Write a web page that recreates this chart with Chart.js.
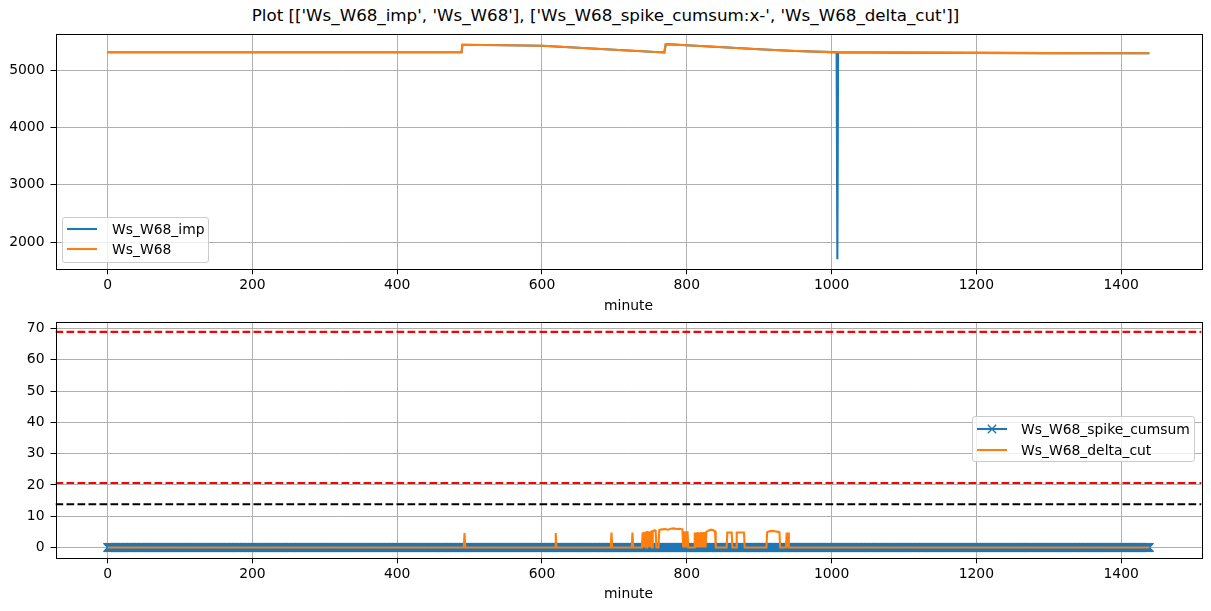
<!DOCTYPE html>
<html>
<head>
<meta charset="utf-8">
<script src="https://cdn.jsdelivr.net/npm/chart.js@4.4.1/dist/chart.umd.min.js"></script>
<style>
  body { margin: 0; width: 1211px; height: 611px; background: #fff; position: relative; overflow: hidden; font-family: 'DejaVu Sans', sans-serif; }
  .panel { position: absolute; left: 0; }
  #title { position: absolute; top: 5px; left: 0; width: 1211px; text-align: center; font-size: 16.7px; color: #000; }
  .legend { position: absolute; background: rgba(255,255,255,0.8); border: 1px solid #ccc; border-radius: 3px; box-sizing: border-box; }
  .legend svg { position: absolute; left: 0; top: 0; }
  .legend span { position: absolute; font-size: 13.9px; line-height: 16px; white-space: nowrap; color: #000; }
</style>
</head>
<body>
<div id="title">Plot [['Ws_W68_imp', 'Ws_W68'], ['Ws_W68_spike_cumsum:x-', 'Ws_W68_delta_cut']]</div>
<div class="panel" style="top:0"><canvas id="top" width="1211" height="320"></canvas></div>
<div class="panel" style="top:300px"><canvas id="bottom" width="1211" height="311"></canvas></div>

<div class="legend" style="left:62px;top:217px;width:147px;height:46px">
  <svg width="147" height="46">
    <line x1="4" y1="11" x2="34" y2="11" stroke="#1f77b4" stroke-width="2.1"/>
    <line x1="4" y1="31" x2="34" y2="31" stroke="#ff7f0e" stroke-width="2.1"/>
  </svg>
  <span style="left:49px;top:3px">Ws_W68_imp</span>
  <span style="left:49px;top:23px">Ws_W68</span>
</div>
<div class="legend" style="left:972px;top:416px;width:223px;height:46px">
  <svg width="223" height="46">
    <line x1="4" y1="12" x2="34" y2="12" stroke="#1f77b4" stroke-width="2.1"/>
    <path d="M14.8 7.8 L23.2 16.2 M14.8 16.2 L23.2 7.8" stroke="#1f77b4" stroke-width="1.4"/>
    <line x1="4" y1="33" x2="34" y2="33" stroke="#ff7f0e" stroke-width="2.1"/>
  </svg>
  <span style="left:48px;top:4px">Ws_W68_spike_cumsum</span>
  <span style="left:48px;top:25px">Ws_W68_delta_cut</span>
</div>

<script>
// x axis (minutes of the day)
const xMin = -72;
const xMax = 1511;
const xTicks = [0, 200, 400, 600, 800, 1000, 1200, 1400];

// top panel
const topYTicks = [2000, 3000, 4000, 5000];
const topYMin = 1525;
const topYMax = 5630;

// Ws_W68 : [minute, value]
const w68 = [
  [0, 5318], [489, 5318], [490, 5447], [550, 5440], [600, 5429], [650, 5395],
  [700, 5360], [769, 5312], [771, 5459], [800, 5438], [850, 5405], [900, 5370],
  [950, 5338], [1000, 5318], [1100, 5310], [1200, 5305], [1300, 5302], [1439, 5300]
];
// Ws_W68_imp : same curve with the single dip around minute 1008
const w68Imp = [
  [0, 5318], [489, 5318], [490, 5447], [550, 5440], [600, 5429], [650, 5395],
  [700, 5360], [769, 5312], [771, 5459], [800, 5438], [850, 5405], [900, 5370],
  [950, 5338], [1000, 5318], [1007, 5317], [1008, 1701], [1009, 5317],
  [1100, 5310], [1200, 5305], [1300, 5302], [1439, 5300]
];

// bottom panel
const botYTicks = [0, 10, 20, 30, 40, 50, 60, 70];
const botYMin = -3.45;
const botYMax = 71.95;

// spike cumsum stays at 0 for every minute 0..1439 (drawn with x markers)
const minuteCount = 1440;
const spikeCumsumValue = 0;

// Ws_W68_delta_cut : [minute, value]
const deltaCut = [
  [0, 0], [492, 0], [493, 4.6], [494, 0],
  [618, 0], [619, 4.6], [620, 0],
  [695, 0], [696, 4.8], [697, 0],
  [724, 0], [725, 4.8], [726, 0],
  [738, 0], [739, 4.8], [740, 0], [741, 4.9], [742, 0], [743, 5.0], [744, 0],
  [745, 4.9], [746, 4.9], [747, 0], [748, 5.0], [749, 0], [750, 5.0], [751, 5.1],
  [752, 0], [753, 5.2], [754, 5.3], [755, 5.4], [756, 5.5], [757, 5.4], [758, 0],
  [761, 0], [762, 5.6], [766, 5.8], [770, 5.9], [774, 5.7], [778, 6.0], [782, 6.1],
  [786, 5.9], [790, 6.0], [794, 5.8], [795, 0], [796, 0], [797, 5.2], [798, 0],
  [799, 5.2], [800, 0], [801, 5.2], [802, 0],
  [810, 0], [811, 4.8], [812, 0], [813, 4.8], [814, 0], [815, 4.9], [816, 0],
  [817, 4.8], [818, 4.8], [819, 0], [820, 4.9], [821, 0], [822, 4.8], [823, 0],
  [824, 4.9], [825, 4.9], [826, 0], [827, 5.0], [830, 5.4], [833, 5.7], [836, 5.6],
  [839, 5.2], [840, 0],
  [855, 0], [856, 4.8], [862, 4.8], [863, 0],
  [868, 0], [869, 4.8], [879, 4.8], [880, 0],
  [910, 0], [911, 4.9], [914, 5.2], [918, 5.3], [922, 5.2], [926, 5.0], [928, 4.9], [929, 0],
  [937, 0], [938, 4.8], [939, 0], [940, 4.8], [941, 0],
  [1439, 0]
];

// threshold lines
const redLevels = [68.9, 20.6];
const blackLevel = 13.8;

const BLUE = '#1f77b4';
const ORANGE = '#ff7f0e';
const FONT = { family: 'DejaVu Sans', size: 13.9 };

const toXY = arr => arr.map(([x, y]) => ({ x, y }));

// matplotlib style frame around the axes
const spines = {
  id: 'spines',
  afterDatasetsDraw(chart) {
    const { ctx, chartArea: a } = chart;
    const l = Math.round(a.left) + 0.5, t = Math.round(a.top) + 0.5;
    const r = Math.round(a.right) + 0.5, b = Math.round(a.bottom) + 0.5;
    ctx.save();
    ctx.strokeStyle = '#000';
    ctx.lineWidth = 1;
    ctx.strokeRect(l, t, r - l, b - t);
    ctx.restore();
  }
};

function hline(y, color) {
  return {
    data: [{ x: xMin, y }, { x: xMax, y }],
    borderColor: color,
    borderWidth: 2.1,
    borderDash: [7.7, 3.3],
    pointRadius: 0,
    order: 1
  };
}

function makeOptions(yMin, yMax, yTicks, padTop, xHeight, titleBottom) {
  return {
    responsive: false,
    animation: false,
    devicePixelRatio: 1,
    layout: { padding: { top: padTop, right: 9.5, left: 0, bottom: 0 } },
    plugins: { legend: { display: false }, tooltip: { enabled: false } },
    elements: { line: { tension: 0 } },
    scales: {
      x: {
        type: 'linear',
        min: xMin,
        max: xMax,
        afterBuildTicks: s => { s.ticks = xTicks.map(v => ({ value: v })); },
        afterFit: s => { s.height = xHeight; },
        grid: { color: '#b0b0b0', lineWidth: 1, tickLength: 5, tickColor: '#000', tickWidth: 1 },
        border: { display: false },
        ticks: { color: '#000', font: FONT, padding: 3, maxRotation: 0, autoSkip: false, callback: v => String(v) },
        title: { display: true, text: 'minute', color: '#000', font: FONT, padding: { top: 0, bottom: titleBottom } }
      },
      y: {
        type: 'linear',
        min: yMin,
        max: yMax,
        afterBuildTicks: s => { s.ticks = yTicks.map(v => ({ value: v })); },
        afterFit: s => { s.width = 55.5; },
        grid: { color: '#b0b0b0', lineWidth: 1, tickLength: 5, tickColor: '#000', tickWidth: 1 },
        border: { display: false },
        ticks: { color: '#000', font: FONT, padding: 6, callback: v => String(v) }
      }
    }
  };
}

new Chart(document.getElementById('top'), {
  type: 'line',
  data: {
    datasets: [
      { label: 'Ws_W68_imp', data: toXY(w68Imp), borderColor: BLUE, borderWidth: 2.1, pointRadius: 0, order: 3 },
      { label: 'Ws_W68', data: toXY(w68), borderColor: ORANGE, borderWidth: 2.1, pointRadius: 0, order: 2 }
    ]
  },
  options: makeOptions(topYMin, topYMax, topYTicks, 34.3, 50.7, 5.5),
  plugins: [spines]
});

const spikeCumsum = Array.from({ length: minuteCount }, (_, m) => ({ x: m, y: spikeCumsumValue }));

new Chart(document.getElementById('bottom'), {
  type: 'line',
  data: {
    datasets: [
      {
        label: 'Ws_W68_spike_cumsum', data: spikeCumsum, borderColor: BLUE, borderWidth: 2.1,
        pointStyle: 'crossRot', pointRadius: 5.9, pointBorderWidth: 1.4, pointBorderColor: BLUE, order: 4
      },
      { label: 'Ws_W68_delta_cut', data: toXY(deltaCut), borderColor: ORANGE, borderWidth: 2.1, pointRadius: 0, order: 3 },
      hline(redLevels[0], '#ff0000'),
      hline(redLevels[1], '#ff0000'),
      hline(blackLevel, '#000000')
    ]
  },
  options: makeOptions(botYMin, botYMax, botYTicks, 22.3, 52.7, 8.5),
  plugins: [spines]
});
</script>
</body>
</html>
